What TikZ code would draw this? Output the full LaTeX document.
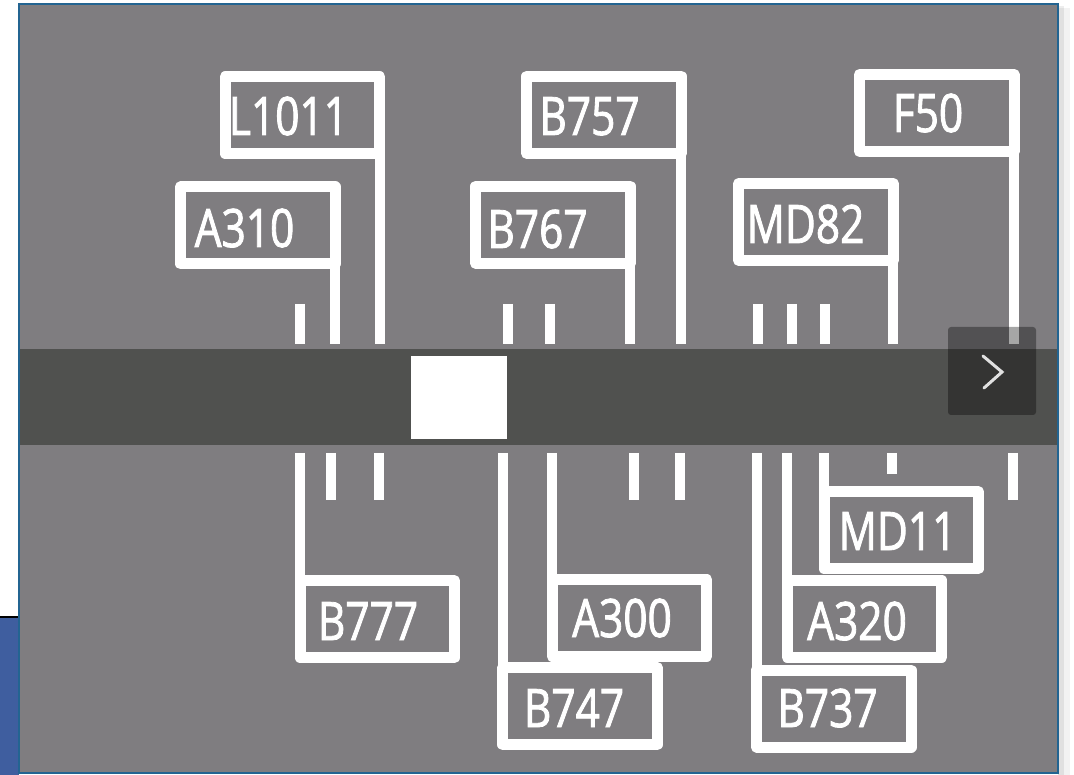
\documentclass[tikz,border=0pt]{standalone}
\usepackage{fontspec}
\newfontfamily\lblfont{Open Sans}[FakeStretch=0.8, FakeBold=1.6]
\definecolor{panel}{RGB}{127,125,128}
\definecolor{band}{RGB}{80,81,79}
\definecolor{frame}{RGB}{35,100,145}
\definecolor{corner}{RGB}{63,94,159}
\definecolor{chev}{RGB}{225,225,225}
\begin{document}
\begin{tikzpicture}[x=1pt,y=-1pt,
  acbox/.style={draw=white, line width=11pt, line join=round, minimum width=154.5pt, minimum height=77pt, inner sep=0pt, outer sep=0pt},
  lbl/.style={text=white, font=\lblfont\fontsize{53}{60}\selectfont, inner sep=0pt, anchor=base},
  conn/.style={draw=white, line width=10pt},
  tickmark/.style={draw=white, line width=10pt}]
\useasboundingbox (0,0) rectangle (1074,775);
% page background
\fill[white] (0,0) rectangle (1074,775);
\fill[corner] (0,617) rectangle (19,775);
\draw[black, line width=1.5pt] (0,617) -- (19,617);
% shadow to the right of the panel
\fill[black, opacity=0.05] (1058,8) rectangle (1070,775);
\fill[black, opacity=0.07] (1058,6) rectangle (1064,775);
% panel and slider band
\fill[panel] (19,4) rectangle (1058,773);
\fill[band] (19,349) rectangle (1058,445);
\node[fill=white, minimum width=96pt, minimum height=83pt, inner sep=0pt, outer sep=0pt] (thumb) at (459,397.5) {};
% reference coordinates for band edges
\coordinate (bandtop) at (0,344);
\coordinate (bandbot) at (0,453);
% upper boxes
\node[acbox] (l1011) at (302.5,115.25) {};
\node[lbl] (l1011t) at (288.5,135) {L1011};
\node[acbox] (a310) at (257.75,225.5) {};
\node[lbl] (a310t) at (244.5,247) {A310};
\node[acbox] (b757) at (604,114.75) {};
\node[lbl] (b757t) at (589.5,135) {B757};
\node[acbox] (b767) at (553,224.75) {};
\node[lbl] (b767t) at (537.5,248) {B767};
\node[acbox] (f50) at (936.75,113) {};
\node[lbl] (f50t) at (928,132) {F50};
\node[acbox] (md82) at (816,222) {};
\node[lbl] (md82t) at (805.5,243) {MD82};
% lower boxes
\node[acbox] (b777) at (377.25,619.25) {};
\node[lbl] (b777t) at (368,640) {B777};
\node[acbox] (a300) at (629.5,618) {};
\node[lbl] (a300t) at (622,637) {A300};
\node[acbox] (b747) at (580,706.25) {};
\node[lbl] (b747t) at (574,727) {B747};
\node[acbox] (md11) at (901.25,530.25) {};
\node[lbl] (md11t) at (897.5,550) {MD11};
\node[acbox] (a320) at (864.5,618.75) {};
\node[lbl] (a320t) at (857,640) {A320};
\node[acbox] (b737) at (833.75,708.5) {};
\node[lbl] (b737t) at (827.5,727) {B737};
% connectors: upper boxes down to the band
\foreach \b in {l1011,a310,b757,b767,f50,md82}
  \draw[conn] (\b.south east) -- (\b.south east |- bandtop);
% connectors: band down to lower boxes
\foreach \b in {b777,a300,b747,md11,a320,b737}
  \draw[conn] (\b.north west |- bandbot) -- (\b.north west);
% short tick marks above the band
\foreach \x in {300,508,550,758,792,825}
  \draw[tickmark] (\x,304) -- (\x,344);
% short tick marks below the band
\foreach \x in {331,379,634,680,1013}
  \draw[tickmark] (\x,453) -- (\x,500);
\draw[tickmark] (892,453) -- (892,474);
% next button
\node[fill=black, fill opacity=0.35, rounded corners=3pt, minimum width=88pt, minimum height=88pt, inner sep=0pt, outer sep=0pt] (next) at (992,371) {};
\draw[chev, line width=3pt, line cap=round, line join=miter] (983,356) -- (1002,372) -- (984,388);
% panel frame
\draw[frame, line width=1.5pt] (19,4) rectangle (1058,773);
\end{tikzpicture}
\end{document}
